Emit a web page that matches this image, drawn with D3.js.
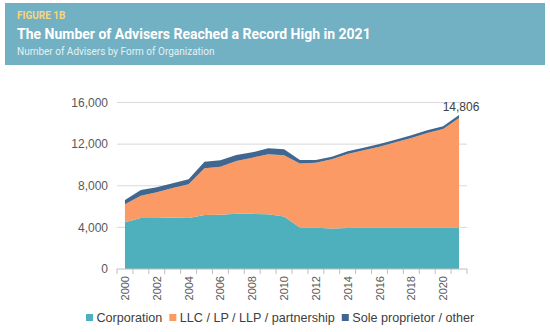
<!DOCTYPE html>
<html lang="en">
<head>
<meta charset="UTF-8">
<title>Figure 1B</title>
<script src="https://cdn.jsdelivr.net/npm/d3@7"></script>
<style>
    body { margin: 0; background: #fff; }
    #chart { width: 550px; height: 332px; }
    .tick text { fill: #595959; font-family: "Liberation Sans", Arial, sans-serif; }
</style>
</head>
<body>
<div id="chart"></div>
<script>
    // 數據
    let years = d3.range(2000, 2022);
    let corporation = [4500, 4900, 4900, 4950, 4900, 5200, 5220, 5320, 5300, 5250, 5050, 4000,
        3970, 3900, 3950, 3960, 3970, 3980, 3960, 3960, 3970, 4000];
    let partnership = [1715, 2145, 2470, 2830, 3240, 4475, 4610, 5060, 5400, 5770, 5875, 6150,
        6245, 6640, 7100, 7440, 7780, 8190, 8630, 9110, 9480, 10520];
    let soleOther = [415, 545, 480, 450, 480, 635, 610, 575, 510, 580, 575, 325,
        260, 250, 260, 260, 260, 260, 260, 260, 260, 286];
    let seriesNames = ["Corporation", "LLC / LP / LLP / partnership", "Sole proprietor / other"];
    let colors = ["#4eb0bc", "#fb9a64", "#41668f"];
    let yTicks = [0, 4000, 8000, 12000, 16000];
    let xTickYears = years.filter(y => y % 2 === 0);
    let lastLabel = "14,806";

    let table = years.map((y, i) => ({
        year: y,
        "Corporation": corporation[i],
        "LLC / LP / LLP / partnership": partnership[i],
        "Sole proprietor / other": soleOther[i]
    }));

    let svg = d3.select("#chart").append("svg")
        .attr("width", 550)
        .attr("height", 332);

    // 標題區
    svg.append("rect")
        .attr("x", 5).attr("y", 3)
        .attr("width", 540).attr("height", 62)
        .attr("fill", "#72b0c3");
    svg.append("text")
        .attr("x", 17).attr("y", 19)
        .attr("fill", "#f6d77c")
        .style("font", "bold 10px Roboto, sans-serif")
        .text("FIGURE 1B");
    svg.append("text")
        .attr("x", 17).attr("y", 39)
        .attr("fill", "#ffffff")
        .style("font", "bold 14px Roboto, sans-serif")
        .text("The Number of Advisers Reached a Record High in 2021");
    svg.append("text")
        .attr("x", 17).attr("y", 54.5)
        .attr("fill", "#e4f0f4")
        .style("font", "10px Roboto, sans-serif")
        .text("Number of Advisers by Form of Organization");

    let padding = { top: 102.5, left: 117, bottom: 63, right: 83 };
    let width = 550 - padding.left - padding.right;
    let height = 332 - padding.top - padding.bottom;

    let focus = svg.append("g")
        .attr("transform", "translate(" + padding.left + "," + padding.top + ")");

    let x = d3.scaleBand().domain(years).range([0, width]);
    let y = d3.scaleLinear().domain([0, 16000]).range([height, 0]);

    // 格線
    focus.append("g")
        .selectAll("line")
        .data(yTicks.slice(1))
        .enter().append("line")
        .attr("x1", 0).attr("x2", width)
        .attr("y1", d => y(d)).attr("y2", d => y(d))
        .attr("stroke", "#d9d9d9").attr("stroke-width", 1);

    // 堆疊面積
    let stack = d3.stack().keys(seriesNames);
    let series = stack(table);
    let area = d3.area()
        .x(d => x(d.data.year) + x.bandwidth() / 2)
        .y0(d => y(d[0]))
        .y1(d => y(d[1]));

    focus.selectAll(".layer")
        .data(series)
        .enter().append("path")
        .attr("class", "layer")
        .attr("d", area)
        .attr("fill", (d, i) => colors[i]);

    // y 軸
    let yAxis = d3.axisLeft(y).tickValues(yTicks).tickSize(0).tickPadding(9)
        .tickFormat(d3.format(","));
    focus.append("g")
        .call(yAxis)
        .call(g => g.select(".domain").remove())
        .selectAll("text").style("font-size", "12px");

    // x 軸
    let xAxisG = focus.append("g")
        .attr("transform", "translate(0," + height + ")");
    xAxisG.append("line")
        .attr("x1", 0).attr("x2", width)
        .attr("stroke", "#bfbfbf");
    xAxisG.selectAll(".xtickmark")
        .data(years.concat([2022]))
        .enter().append("line")
        .attr("class", "xtickmark")
        .attr("x1", d => d === 2022 ? width : x(d))
        .attr("x2", d => d === 2022 ? width : x(d))
        .attr("y1", 0).attr("y2", 5)
        .attr("stroke", "#bfbfbf");
    xAxisG.selectAll(".xlabel")
        .data(xTickYears)
        .enter().append("text")
        .attr("class", "xlabel")
        .attr("transform", d => "translate(" + (x(d) + x.bandwidth() / 2 + 4) + ",7) rotate(-90)")
        .attr("text-anchor", "end")
        .attr("fill", "#595959")
        .style("font", "11px 'Liberation Sans', Arial, sans-serif")
        .text(d => d);

    // 最後數值標籤
    let last = series[series.length - 1][years.length - 1];
    focus.append("text")
        .attr("x", x(2021) + x.bandwidth() / 2 + 2)
        .attr("y", y(last[1]) - 4)
        .attr("text-anchor", "middle")
        .attr("fill", "#404040")
        .style("font", "12px 'Liberation Sans', Arial, sans-serif")
        .text(lastLabel);

    // 圖例
    let legend = svg.append("g");
    let lx = 86;
    seriesNames.forEach((name, i) => {
        legend.append("rect")
            .attr("x", lx).attr("y", 314)
            .attr("width", 7).attr("height", 7)
            .attr("fill", colors[i]);
        let t = legend.append("text")
            .attr("x", lx + 10.5).attr("y", 322)
            .attr("fill", "#404040")
            .style("font", "12.6px 'Liberation Sans', Arial, sans-serif")
            .text(name);
        lx += 10.5 + t.node().getComputedTextLength() + 7;
    });
</script>
</body>
</html>
